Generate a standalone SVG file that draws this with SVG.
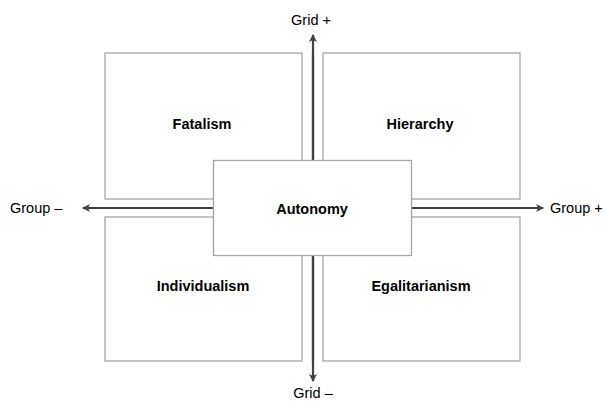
<svg xmlns="http://www.w3.org/2000/svg" width="605" height="403" viewBox="0 0 605 403">
<style>
.box{fill:#fff;stroke:#a6a6a6;stroke-width:1.3}
.lbl{font-family:"Liberation Sans",Arial,sans-serif;font-size:14.5px;font-weight:bold;fill:#000;text-anchor:middle}
.ax{font-family:"Liberation Sans",Arial,sans-serif;font-size:14.5px;fill:#000}
.axis{stroke:#404040;stroke-width:2.2;fill:none}
</style>
<defs>
<marker id="ah" markerWidth="8" markerHeight="8" refX="7" refY="4" orient="auto" markerUnits="userSpaceOnUse" viewBox="0 0 8 8">
<path d="M0,0 L8,4 L0,8 L2,4 Z" fill="#404040"/>
</marker>
</defs>
<rect width="605" height="403" fill="#fff"/>
<g id="fatalism"><rect class="box" x="105" y="53" width="197" height="146"/><text class="lbl" x="202" y="129">Fatalism</text></g>
<g id="hierarchy"><rect class="box" x="323" y="53" width="197" height="146"/><text class="lbl" x="420" y="129">Hierarchy</text></g>
<g id="individualism"><rect class="box" x="105" y="217" width="197" height="144"/><text class="lbl" x="203" y="291">Individualism</text></g>
<g id="egalitarianism"><rect class="box" x="323" y="217" width="197" height="144"/><text class="lbl" x="421" y="291">Egalitarianism</text></g>
<g id="connectors">
<line class="axis" x1="313" y1="362" x2="313" y2="35" marker-end="url(#ah)"/>
<line class="axis" x1="313" y1="54" x2="313" y2="381" marker-end="url(#ah)"/>
<line class="axis" x1="313" y1="208" x2="83" y2="208" marker-end="url(#ah)"/>
<line class="axis" x1="313" y1="208" x2="543" y2="208" marker-end="url(#ah)"/>
</g>
<g id="autonomy"><rect class="box" x="213.5" y="160.5" width="198" height="95"/><text class="lbl" x="312" y="214">Autonomy</text></g>
<g id="axis-labels">
<text class="ax" x="311" y="25" text-anchor="middle">Grid +</text>
<text class="ax" x="313" y="398" text-anchor="middle">Grid –</text>
<text class="ax" x="10" y="213">Group –</text>
<text class="ax" x="550" y="213">Group +</text>
</g>
</svg>
